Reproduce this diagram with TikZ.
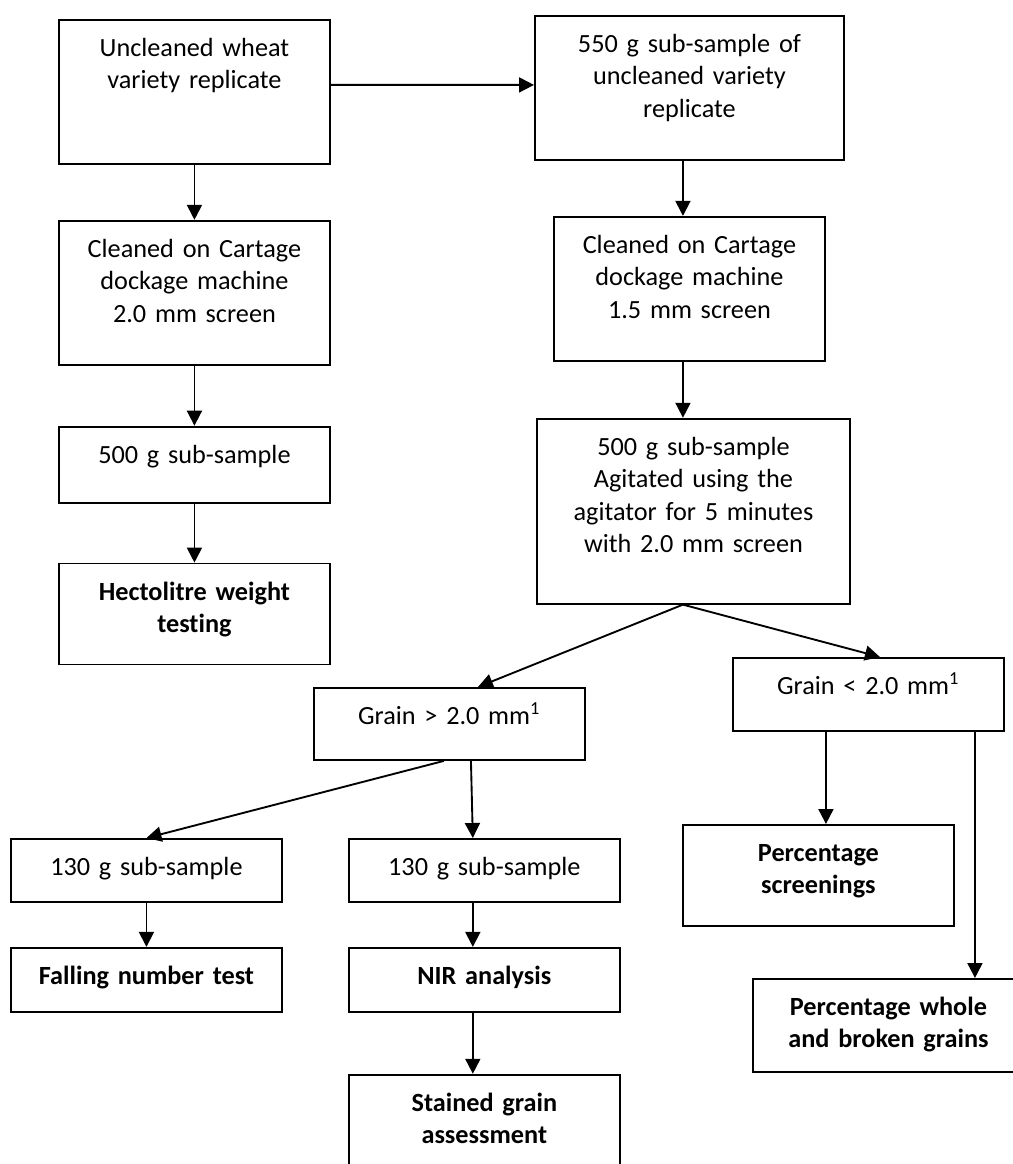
\documentclass[tikz,border=0pt]{standalone}
\usepackage{fontspec}
\setmainfont[Ligatures=NoCommon]{Carlito}
\usetikzlibrary{positioning}
\usetikzlibrary{arrows.meta}
\tikzset{stage/.style={draw,line width=0.75pt,inner xsep=4pt,inner
    ysep=5.5pt,text width=100.4pt,align=center,text height=9.1pt,
    text depth=#1,font=\fontsize{10.5}{13}\selectfont},
    result/.style={stage=#1,font=\fontsize{10.5}{13}\selectfont\bfseries},
    flow/.style={->,line width=0.75pt,>={Triangle[length=6pt,width=6pt]}}}

\begin{document}
\begin{tikzpicture}[x=0.4pt,y=-0.4pt]
        \useasboundingbox (0,0) rectangle (1012,1164);
        \node[stage=37.5pt,anchor=north west] (uncleaned) at (58,18.7) {Uncleaned wheat\\variety replicate};
        \node[stage=37.5pt,below=22.1pt of uncleaned] (clean20) {Cleaned on Cartage\\dockage machine\\2.0 mm screen};
        \node[stage=10.3pt,below=24pt of clean20] (sub500) {500 g sub-sample};
        \node[result=20.3pt,below=23.6pt of sub500] (hecto) {Hectolitre weight\\testing};
        \node[stage=37.5pt,text width=115.6pt,anchor=north west] (sub550) at (534,15) {550 g sub-sample of\\uncleaned variety\\replicate};
        \node[stage=37.5pt,below=22pt of sub550] (clean15) {Cleaned on Cartage\\dockage machine\\1.5 mm screen};
        \node[stage=53.9pt,text width=117.2pt,below=22.4pt of clean15,xshift=1.6pt] (agit) {500 g sub-sample\\Agitated using the\\agitator for 5 minutes\\with 2.0 mm screen};
        \node[stage=8.7pt,anchor=north west] (grainhi) at (313,687) {Grain > 2.0 mm\textsuperscript{1}};
        \node[stage=9.1pt,anchor=north west] (grainlo) at (732,657) {Grain < 2.0 mm\textsuperscript{1}};
        \node[stage=5.1pt,anchor=north west] (sub130a) at (10,838) {130 g sub-sample};
        \node[stage=5.1pt,right=26pt of sub130a] (sub130b) {130 g sub-sample};
        \node[result=5.5pt,below=17.6pt of sub130a] (falling) {Falling number test};
        \node[result=5.5pt,below=17.6pt of sub130b] (nir) {NIR analysis};
        \node[result=37.5pt,below=24.4pt of nir] (stained) {Stained grain\\assessment};
        \node[result=20.3pt,anchor=north west] (screen) at (682,824) {Percentage\\screenings};
        \node[result=17.1pt,anchor=north west] (whole) at (752,978) {Percentage whole\\and broken grains};
        \draw[flow]([yshift=2.7pt]uncleaned.east)--([yshift=1.2pt]sub550.west);
        \draw[flow](uncleaned)--(clean20);\draw[flow]([xshift=-2.6pt]sub550.south)--([xshift=-2.6pt]clean15.north);
        \draw[flow](clean20)--(sub500);\draw[flow]([xshift=-2.6pt]clean15.south)--([xshift=-4.2pt]agit.north);
        \draw[flow](sub500)--(hecto);
        \draw[flow]([xshift=-4.2pt]agit.south)--([xshift=11.4pt]grainhi.north);
        \draw[flow]([xshift=-4.2pt]agit.south)--([xshift=4.6pt]grainlo.north);
        \draw[flow]([xshift=-2.2pt]grainhi.south)--(sub130a.north);
        \draw[flow]([xshift=8.6pt]grainhi.south)--([xshift=-4.6pt]sub130b.north);
        \draw[flow]([xshift=-17pt]grainlo.south)--([xshift=3pt]screen.north);
        \draw[flow]([xshift=42.6pt]grainlo.south)--([xshift=34.6pt]whole.north);
        \draw[flow](sub130a)--(falling);\draw[flow]([xshift=-4.6pt]sub130b.south)--([xshift=-4.6pt]nir.north);
        \draw[flow]([xshift=-4.6pt]nir.south)--([xshift=-4.6pt]stained.north);
    \end{tikzpicture}
\end{document}
